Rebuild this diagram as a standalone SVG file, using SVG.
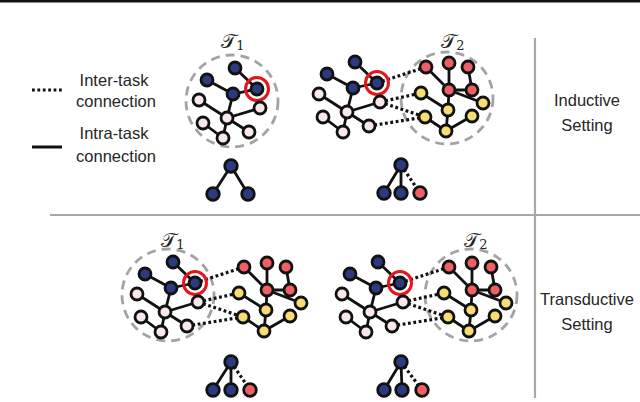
<svg xmlns="http://www.w3.org/2000/svg" width="640" height="402" viewBox="0 0 640 402">
<style>
.e{stroke:#111;stroke-width:2.8;fill:none;stroke-linecap:round}
.d{stroke:#111;stroke-width:3.2;stroke-dasharray:2.8 2.6;fill:none}
.c{stroke:#a3a3a3;stroke-width:2.8;stroke-dasharray:9 6;fill:none}
.nv circle{fill:#2c3b80;stroke:#111;stroke-width:2.8}
.nw circle{fill:#f8e8e8;stroke:#111;stroke-width:2.8}
.nr circle{fill:#ee5f66;stroke:#111;stroke-width:2.8}
.ny circle{fill:#f6de75;stroke:#111;stroke-width:2.8}
.nv circle.ring{fill:none;stroke:#e8141c;stroke-width:3}
.t{font-family:"Liberation Sans",Arial,sans-serif;font-size:16.5px;fill:#262626;text-anchor:middle}
.m{font-family:"DejaVu Serif","DejaVu Sans",serif;font-size:20px;fill:#222}
.sep{stroke:#a8a8a8;stroke-width:2.2}
</style>

<line x1="0" y1="1.2" x2="640" y2="1.2" stroke="#111" stroke-width="2.5"/>
<line class="sep" x1="535" y1="38" x2="535" y2="398"/>
<line class="sep" x1="50" y1="215" x2="640" y2="215"/>

<!-- legend -->
<g id="legend">
<line class="d" x1="32" y1="90" x2="62" y2="90"/>
<line x1="32" y1="147" x2="62" y2="147" stroke="#111" stroke-width="3"/>
<text class="t" x="114" y="86">Inter-task</text>
<text class="t" x="116" y="107">connection</text>
<text class="t" x="114" y="139">Intra-task</text>
<text class="t" x="116" y="162">connection</text>
</g>

<g id="labels">
<text class="t" x="587" y="106">Inductive</text>
<text class="t" x="587" y="131">Setting</text>
<text class="t" x="587" y="305">Transductive</text>
<text class="t" x="587" y="330">Setting</text>
<text class="m" x="233" y="48" text-anchor="middle">𝒯<tspan font-size="13" dy="2">1</tspan></text>
<text class="m" x="453" y="48" text-anchor="middle">𝒯<tspan font-size="13" dy="2">2</tspan></text>
<text class="m" x="173" y="247" text-anchor="middle">𝒯<tspan font-size="13" dy="2">1</tspan></text>
<text class="m" x="476" y="247" text-anchor="middle">𝒯<tspan font-size="13" dy="2">2</tspan></text>
</g>

<!-- Panel A: inductive T1 -->
<g id="panelA" transform="translate(-120,6)">
<circle class="c" cx="352" cy="95" r="46"/>
<g id="A-edges">
<line class="e" x1="355" y1="62" x2="377" y2="83"/>
<line class="e" x1="327" y1="74" x2="353" y2="88"/>
<line class="e" x1="353" y1="88" x2="377" y2="83"/>
<line class="e" x1="353" y1="88" x2="347" y2="112"/>
<line class="e" x1="319" y1="94" x2="347" y2="112"/>
<line class="e" x1="347" y1="112" x2="380" y2="102"/>
<line class="e" x1="347" y1="112" x2="343" y2="132"/>
<line class="e" x1="347" y1="112" x2="369" y2="126"/>
<line class="e" x1="323" y1="117" x2="343" y2="132"/>
</g>
<g id="A-n1" class="nv"><circle cx="355" cy="62" r="6"/></g>
<g id="A-n2" class="nv"><circle cx="327" cy="74" r="6"/></g>
<g id="A-n3" class="nv"><circle cx="353" cy="88" r="6"/></g>
<g id="A-n4" class="nv"><circle cx="377" cy="83" r="6"/><circle class="ring" cx="377" cy="83" r="11.5"/></g>
<g id="A-w1" class="nw"><circle cx="319" cy="94" r="6"/></g>
<g id="A-w2" class="nw"><circle cx="347" cy="112" r="6"/></g>
<g id="A-w3" class="nw"><circle cx="380" cy="102" r="6"/></g>
<g id="A-w4" class="nw"><circle cx="323" cy="117" r="6"/></g>
<g id="A-w5" class="nw"><circle cx="343" cy="132" r="6"/></g>
<g id="A-w6" class="nw"><circle cx="369" cy="126" r="6"/></g>
</g>

<!-- Panel B: inductive T2 -->
<g id="panelB">
<circle class="c" cx="447" cy="98" r="46"/>
<g id="B-edges">
<line class="e" x1="355" y1="62" x2="377" y2="83"/>
<line class="e" x1="327" y1="74" x2="353" y2="88"/>
<line class="e" x1="353" y1="88" x2="377" y2="83"/>
<line class="e" x1="353" y1="88" x2="347" y2="112"/>
<line class="e" x1="319" y1="94" x2="347" y2="112"/>
<line class="e" x1="347" y1="112" x2="380" y2="102"/>
<line class="e" x1="347" y1="112" x2="343" y2="132"/>
<line class="e" x1="347" y1="112" x2="369" y2="126"/>
<line class="e" x1="323" y1="117" x2="343" y2="132"/>
<line class="e" x1="426" y1="67" x2="449" y2="90"/>
<line class="e" x1="449" y1="63" x2="449" y2="90"/>
<line class="e" x1="468" y1="67" x2="472" y2="90"/>
<line class="e" x1="449" y1="90" x2="472" y2="90"/>
<line class="e" x1="449" y1="90" x2="483" y2="103"/>
<line class="e" x1="449" y1="90" x2="448" y2="110"/>
<line class="e" x1="421" y1="93" x2="448" y2="110"/>
<line class="e" x1="448" y1="110" x2="446" y2="131"/>
<line class="e" x1="425" y1="117" x2="446" y2="131"/>
<line class="e" x1="446" y1="131" x2="472" y2="116"/>
<line class="d" x1="377" y1="83" x2="426" y2="67"/>
<line class="d" x1="380" y1="102" x2="421" y2="93"/>
<line class="d" x1="380" y1="102" x2="425" y2="117"/>
<line class="d" x1="369" y1="126" x2="425" y2="117"/>
</g>
<g id="B-n1" class="nv"><circle cx="355" cy="62" r="6"/></g>
<g id="B-n2" class="nv"><circle cx="327" cy="74" r="6"/></g>
<g id="B-n3" class="nv"><circle cx="353" cy="88" r="6"/></g>
<g id="B-n4" class="nv"><circle cx="377" cy="83" r="6"/><circle class="ring" cx="377" cy="83" r="11.5"/></g>
<g id="B-w1" class="nw"><circle cx="319" cy="94" r="6"/></g>
<g id="B-w2" class="nw"><circle cx="347" cy="112" r="6"/></g>
<g id="B-w3" class="nw"><circle cx="380" cy="102" r="6"/></g>
<g id="B-w4" class="nw"><circle cx="323" cy="117" r="6"/></g>
<g id="B-w5" class="nw"><circle cx="343" cy="132" r="6"/></g>
<g id="B-w6" class="nw"><circle cx="369" cy="126" r="6"/></g>
<g id="B-r1" class="nr"><circle cx="426" cy="67" r="6"/></g>
<g id="B-r2" class="nr"><circle cx="449" cy="63" r="6"/></g>
<g id="B-r3" class="nr"><circle cx="468" cy="67" r="6"/></g>
<g id="B-r4" class="nr"><circle cx="449" cy="90" r="6"/></g>
<g id="B-r5" class="nr"><circle cx="472" cy="90" r="6"/></g>
<g id="B-y1" class="ny"><circle cx="421" cy="93" r="6"/></g>
<g id="B-y2" class="ny"><circle cx="483" cy="103" r="6"/></g>
<g id="B-y3" class="ny"><circle cx="448" cy="110" r="6"/></g>
<g id="B-y4" class="ny"><circle cx="425" cy="117" r="6"/></g>
<g id="B-y5" class="ny"><circle cx="472" cy="116" r="6"/></g>
<g id="B-y6" class="ny"><circle cx="446" cy="131" r="6"/></g>
</g>

<!-- Panel C: transductive T1 -->
<g id="panelC" transform="translate(-182,200)">
<circle class="c" cx="350" cy="95" r="46"/>
<g id="C-edges">
<line class="e" x1="355" y1="62" x2="377" y2="83"/>
<line class="e" x1="327" y1="74" x2="353" y2="88"/>
<line class="e" x1="353" y1="88" x2="377" y2="83"/>
<line class="e" x1="353" y1="88" x2="347" y2="112"/>
<line class="e" x1="319" y1="94" x2="347" y2="112"/>
<line class="e" x1="347" y1="112" x2="380" y2="102"/>
<line class="e" x1="347" y1="112" x2="343" y2="132"/>
<line class="e" x1="347" y1="112" x2="369" y2="126"/>
<line class="e" x1="323" y1="117" x2="343" y2="132"/>
<line class="e" x1="426" y1="67" x2="449" y2="90"/>
<line class="e" x1="449" y1="63" x2="449" y2="90"/>
<line class="e" x1="468" y1="67" x2="472" y2="90"/>
<line class="e" x1="449" y1="90" x2="472" y2="90"/>
<line class="e" x1="449" y1="90" x2="483" y2="103"/>
<line class="e" x1="449" y1="90" x2="448" y2="110"/>
<line class="e" x1="421" y1="93" x2="448" y2="110"/>
<line class="e" x1="448" y1="110" x2="446" y2="131"/>
<line class="e" x1="425" y1="117" x2="446" y2="131"/>
<line class="e" x1="446" y1="131" x2="472" y2="116"/>
<line class="d" x1="377" y1="83" x2="426" y2="67"/>
<line class="d" x1="380" y1="102" x2="421" y2="93"/>
<line class="d" x1="380" y1="102" x2="425" y2="117"/>
<line class="d" x1="369" y1="126" x2="425" y2="117"/>
</g>
<g id="C-n1" class="nv"><circle cx="355" cy="62" r="6"/></g>
<g id="C-n2" class="nv"><circle cx="327" cy="74" r="6"/></g>
<g id="C-n3" class="nv"><circle cx="353" cy="88" r="6"/></g>
<g id="C-n4" class="nv"><circle cx="377" cy="83" r="6"/><circle class="ring" cx="377" cy="83" r="11.5"/></g>
<g id="C-w1" class="nw"><circle cx="319" cy="94" r="6"/></g>
<g id="C-w2" class="nw"><circle cx="347" cy="112" r="6"/></g>
<g id="C-w3" class="nw"><circle cx="380" cy="102" r="6"/></g>
<g id="C-w4" class="nw"><circle cx="323" cy="117" r="6"/></g>
<g id="C-w5" class="nw"><circle cx="343" cy="132" r="6"/></g>
<g id="C-w6" class="nw"><circle cx="369" cy="126" r="6"/></g>
<g id="C-r1" class="nr"><circle cx="426" cy="67" r="6"/></g>
<g id="C-r2" class="nr"><circle cx="449" cy="63" r="6"/></g>
<g id="C-r3" class="nr"><circle cx="468" cy="67" r="6"/></g>
<g id="C-r4" class="nr"><circle cx="449" cy="90" r="6"/></g>
<g id="C-r5" class="nr"><circle cx="472" cy="90" r="6"/></g>
<g id="C-y1" class="ny"><circle cx="421" cy="93" r="6"/></g>
<g id="C-y2" class="ny"><circle cx="483" cy="103" r="6"/></g>
<g id="C-y3" class="ny"><circle cx="448" cy="110" r="6"/></g>
<g id="C-y4" class="ny"><circle cx="425" cy="117" r="6"/></g>
<g id="C-y5" class="ny"><circle cx="472" cy="116" r="6"/></g>
<g id="C-y6" class="ny"><circle cx="446" cy="131" r="6"/></g>
</g>

<!-- Panel D: transductive T2 -->
<g id="panelD" transform="translate(23,200)">
<circle class="c" cx="448" cy="95" r="46"/>
<g id="D-edges">
<line class="e" x1="355" y1="62" x2="377" y2="83"/>
<line class="e" x1="327" y1="74" x2="353" y2="88"/>
<line class="e" x1="353" y1="88" x2="377" y2="83"/>
<line class="e" x1="353" y1="88" x2="347" y2="112"/>
<line class="e" x1="319" y1="94" x2="347" y2="112"/>
<line class="e" x1="347" y1="112" x2="380" y2="102"/>
<line class="e" x1="347" y1="112" x2="343" y2="132"/>
<line class="e" x1="347" y1="112" x2="369" y2="126"/>
<line class="e" x1="323" y1="117" x2="343" y2="132"/>
<line class="e" x1="426" y1="67" x2="449" y2="90"/>
<line class="e" x1="449" y1="63" x2="449" y2="90"/>
<line class="e" x1="468" y1="67" x2="472" y2="90"/>
<line class="e" x1="449" y1="90" x2="472" y2="90"/>
<line class="e" x1="449" y1="90" x2="483" y2="103"/>
<line class="e" x1="449" y1="90" x2="448" y2="110"/>
<line class="e" x1="421" y1="93" x2="448" y2="110"/>
<line class="e" x1="448" y1="110" x2="446" y2="131"/>
<line class="e" x1="425" y1="117" x2="446" y2="131"/>
<line class="e" x1="446" y1="131" x2="472" y2="116"/>
<line class="d" x1="377" y1="83" x2="426" y2="67"/>
<line class="d" x1="380" y1="102" x2="421" y2="93"/>
<line class="d" x1="380" y1="102" x2="425" y2="117"/>
<line class="d" x1="369" y1="126" x2="425" y2="117"/>
</g>
<g id="D-n1" class="nv"><circle cx="355" cy="62" r="6"/></g>
<g id="D-n2" class="nv"><circle cx="327" cy="74" r="6"/></g>
<g id="D-n3" class="nv"><circle cx="353" cy="88" r="6"/></g>
<g id="D-n4" class="nv"><circle cx="377" cy="83" r="6"/><circle class="ring" cx="377" cy="83" r="11.5"/></g>
<g id="D-w1" class="nw"><circle cx="319" cy="94" r="6"/></g>
<g id="D-w2" class="nw"><circle cx="347" cy="112" r="6"/></g>
<g id="D-w3" class="nw"><circle cx="380" cy="102" r="6"/></g>
<g id="D-w4" class="nw"><circle cx="323" cy="117" r="6"/></g>
<g id="D-w5" class="nw"><circle cx="343" cy="132" r="6"/></g>
<g id="D-w6" class="nw"><circle cx="369" cy="126" r="6"/></g>
<g id="D-r1" class="nr"><circle cx="426" cy="67" r="6"/></g>
<g id="D-r2" class="nr"><circle cx="449" cy="63" r="6"/></g>
<g id="D-r3" class="nr"><circle cx="468" cy="67" r="6"/></g>
<g id="D-r4" class="nr"><circle cx="449" cy="90" r="6"/></g>
<g id="D-r5" class="nr"><circle cx="472" cy="90" r="6"/></g>
<g id="D-y1" class="ny"><circle cx="421" cy="93" r="6"/></g>
<g id="D-y2" class="ny"><circle cx="483" cy="103" r="6"/></g>
<g id="D-y3" class="ny"><circle cx="448" cy="110" r="6"/></g>
<g id="D-y4" class="ny"><circle cx="425" cy="117" r="6"/></g>
<g id="D-y5" class="ny"><circle cx="472" cy="116" r="6"/></g>
<g id="D-y6" class="ny"><circle cx="446" cy="131" r="6"/></g>
</g>

<!-- small trees -->
<g id="trees-edges">
<line class="e" x1="231" y1="166" x2="213" y2="194"/>
<line class="e" x1="231" y1="166" x2="248" y2="194"/>
<line class="e" x1="401" y1="165" x2="384" y2="193"/>
<line class="e" x1="401" y1="165" x2="401" y2="193"/>
<line class="d" x1="401" y1="165" x2="420" y2="193"/>
<line class="e" x1="231" y1="362" x2="213" y2="390"/>
<line class="e" x1="231" y1="362" x2="231" y2="390"/>
<line class="d" x1="231" y1="362" x2="250" y2="390"/>
<line class="e" x1="401" y1="362" x2="384" y2="390"/>
<line class="e" x1="401" y1="362" x2="402" y2="390"/>
<line class="d" x1="401" y1="362" x2="422" y2="390"/>
</g>
<g id="tA-top" class="nv"><circle cx="231" cy="166" r="6.3"/></g>
<g id="tA-l" class="nv"><circle cx="213" cy="194" r="6.3"/></g>
<g id="tA-r" class="nv"><circle cx="248" cy="194" r="6.3"/></g>
<g id="tB-top" class="nv"><circle cx="401" cy="165" r="6.3"/></g>
<g id="tB-l" class="nv"><circle cx="384" cy="193" r="6.3"/></g>
<g id="tB-m" class="nv"><circle cx="401" cy="193" r="6.3"/></g>
<g id="tB-r" class="nr"><circle cx="420" cy="193" r="6.3"/></g>
<g id="tC-top" class="nv"><circle cx="231" cy="362" r="6.3"/></g>
<g id="tC-l" class="nv"><circle cx="213" cy="390" r="6.3"/></g>
<g id="tC-m" class="nv"><circle cx="231" cy="390" r="6.3"/></g>
<g id="tC-r" class="nr"><circle cx="250" cy="390" r="6.3"/></g>
<g id="tD-top" class="nv"><circle cx="401" cy="362" r="6.3"/></g>
<g id="tD-l" class="nv"><circle cx="384" cy="390" r="6.3"/></g>
<g id="tD-m" class="nv"><circle cx="402" cy="390" r="6.3"/></g>
<g id="tD-r" class="nr"><circle cx="422" cy="390" r="6.3"/></g>
</svg>
